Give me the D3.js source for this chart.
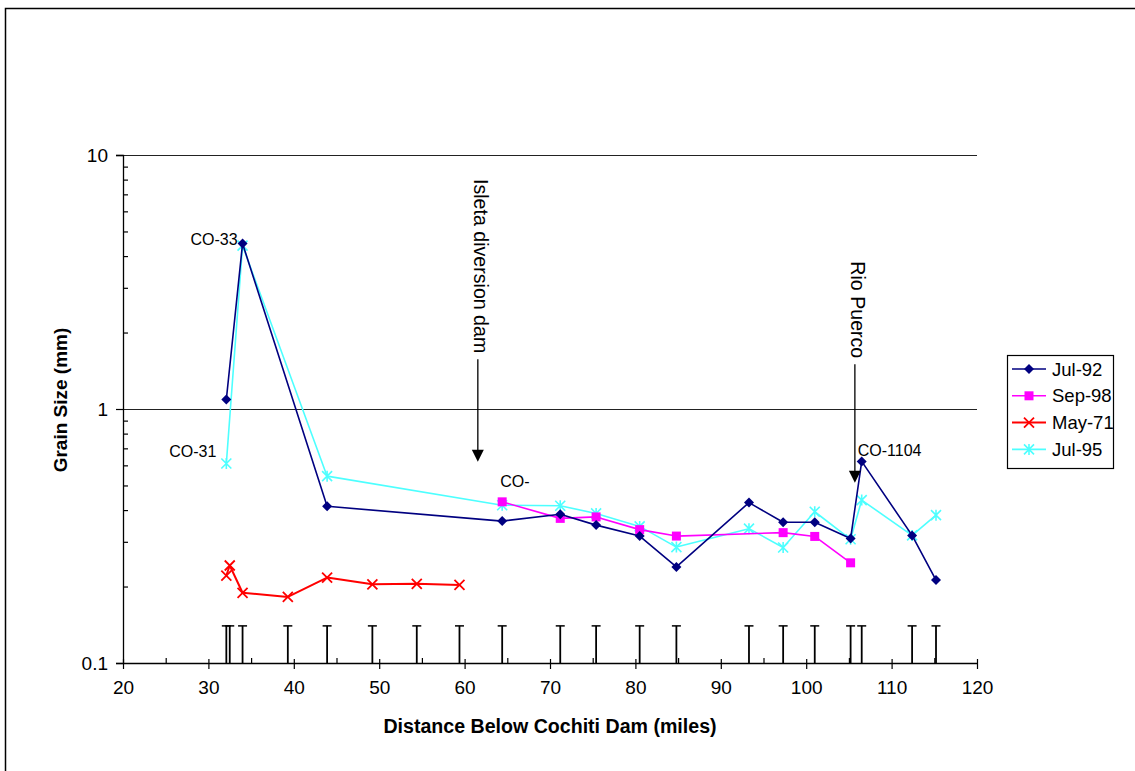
<!DOCTYPE html>
<html>
<head>
<meta charset="utf-8">
<script src="https://cdn.jsdelivr.net/npm/d3@7"></script>
<style>
  html, body { margin: 0; padding: 0; background: #fff; }
  svg { display: block; font-family: Arial, "Liberation Sans", sans-serif; }
</style>
</head>
<body>
<svg id="chart" width="1135" height="771"></svg>
<script>
// Sampling locations (river miles below Cochiti Dam)
const stationMiles = [32.1, 32.5, 34.0, 39.3, 43.9, 49.2, 54.4, 59.4, 64.4, 71.2,
                      75.4, 80.5, 84.8, 93.3, 97.3, 101.0, 105.2, 106.5, 112.4, 115.2];
const stationMarkTop = 0.14;

// Median grain size (mm) per survey
const jul92Miles = [32.1, 34.0, 43.9, 64.4, 71.2, 75.4, 80.5, 84.8, 93.3, 97.3, 101.0, 105.2, 106.5, 112.4, 115.2];
const jul92Size  = [1.09, 4.48, 0.414, 0.362, 0.385, 0.349, 0.316, 0.239, 0.428, 0.358, 0.358, 0.309, 0.622, 0.318, 0.212];

const sep98Miles = [64.4, 71.2, 75.4, 80.5, 84.8, 97.3, 101.0, 105.2];
const sep98Size  = [0.431, 0.371, 0.376, 0.335, 0.316, 0.326, 0.315, 0.248];

const may71Miles = [32.1, 32.5, 34.0, 39.3, 43.9, 49.2, 54.4, 59.4];
const may71Size  = [0.221, 0.242, 0.189, 0.182, 0.217, 0.204, 0.205, 0.203];

const jul95Miles = [32.1, 34.0, 43.9, 64.4, 71.2, 75.4, 80.5, 84.8, 93.3, 97.3, 101.0, 105.2, 106.5, 112.4, 115.2];
const jul95Size  = [0.61, 4.40, 0.544, 0.418, 0.416, 0.388, 0.345, 0.286, 0.338, 0.285, 0.394, 0.307, 0.438, 0.318, 0.382];

const seriesNames = ["Jul-92", "Sep-98", "May-71", "Jul-95"];

// Axis ticks
const xMajorTicks = [20, 30, 40, 50, 60, 70, 80, 90, 100, 110, 120];
const xMinorTicks = [25, 35, 45, 55, 65, 75, 85, 95, 105, 115];
const yMajorTicks = [0.1, 1, 10];
const yTickLabels = ["0.1", "1", "10"];
const yMinorTicks = [0.2, 0.3, 0.4, 0.5, 0.6, 0.7, 0.8, 0.9, 2, 3, 4, 5, 6, 7, 8, 9];

// Station labels: [text, mile, size]
const stationLabels = [
  ["CO-33", 34.0, 4.48],
  ["CO-31", 32.1, 0.61],
  ["CO-", 64.4, 0.431],
  ["CO-1104", 106.5, 0.622]
];
// Landmark arrows: [text, mile, arrow top size, arrow tip size]
const landmarks = [
  ["Isleta diversion dam", 61.55, 1.57, 0.62],
  ["Rio Puerco", 105.7, 1.50, 0.512]
];

const svg = d3.select("#chart");

// outer frame
svg.append("rect").attr("x", 5.5).attr("y", 8.5).attr("width", 1200).attr("height", 900)
  .attr("fill", "none").attr("stroke", "#000").attr("stroke-width", 1.5);

const x = d3.scaleLinear().domain([20, 120]).range([123, 977]);
const y = d3.scaleLog().domain([0.1, 10]).range([663, 155]);

// horizontal gridlines at 1 and 10
svg.append("g").selectAll("line").data([1, 10]).join("line")
  .attr("x1", x(20)).attr("x2", x(120))
  .attr("y1", d => y(d) + 0.5).attr("y2", d => y(d) + 0.5)
  .attr("stroke", "#222").attr("stroke-width", 1);

// y axis
const yAxis = svg.append("g").attr("transform", `translate(${x(20)},0)`)
  .call(d3.axisLeft(y).tickValues(yMajorTicks).tickSize(7)
    .tickFormat((d, i) => yTickLabels[i]));
yAxis.append("g").call(d3.axisRight(y).tickValues(yMinorTicks).tickSize(5).tickFormat(""))
  .call(g => g.select(".domain").remove());

// x axis
const xAxis = svg.append("g").attr("transform", `translate(0,${y(0.1)})`)
  .call(d3.axisBottom(x).tickValues(xMajorTicks).tickSize(6).tickSizeOuter(0).tickFormat(d3.format("d")));
xAxis.append("g").call(d3.axisBottom(x).tickValues(xMajorTicks).tickSize(-4).tickFormat(""))
  .call(g => g.select(".domain").remove());
xAxis.append("g").call(d3.axisBottom(x).tickValues(xMinorTicks).tickSize(-5).tickFormat(""))
  .call(g => g.select(".domain").remove());

svg.selectAll(".domain").attr("stroke", "#000").attr("stroke-width", 1.3);
svg.selectAll(".tick line").attr("stroke", "#000").attr("stroke-width", 1.2);
svg.selectAll(".tick text").attr("font-size", 19).attr("fill", "#000")
  .attr("font-family", "Arial, 'Liberation Sans', sans-serif");
yAxis.selectAll(".tick text").attr("x", -15);
xAxis.selectAll(".tick text").attr("y", 18);

// axis titles
svg.append("text").attr("x", x(70)).attr("y", 733).attr("text-anchor", "middle")
  .attr("font-size", 19.6).attr("font-weight", "bold").text("Distance Below Cochiti Dam (miles)");
svg.append("text").attr("transform", `translate(67,${y(1) - 9}) rotate(-90)`)
  .attr("text-anchor", "middle").attr("font-size", 19).attr("font-weight", "bold")
  .text("Grain Size (mm)");

// sampling station markers along the bottom
const stations = svg.append("g").attr("stroke", "#000").attr("stroke-width", 1.8);
stations.selectAll("line.v").data(stationMiles).join("line").attr("class", "v")
  .attr("x1", d => x(d)).attr("x2", d => x(d))
  .attr("y1", y(stationMarkTop)).attr("y2", y(0.1));
stations.selectAll("line.c").data(stationMiles).join("line").attr("class", "c")
  .attr("stroke-width", 1.5)
  .attr("x1", d => x(d) - 4.5).attr("x2", d => x(d) + 4.5)
  .attr("y1", y(stationMarkTop)).attr("y2", y(stationMarkTop));

// series definitions
const series = [
  { name: seriesNames[0], miles: jul92Miles, size: jul92Size, color: "#000080", width: 1.6, symbol: "diamond" },
  { name: seriesNames[1], miles: sep98Miles, size: sep98Size, color: "#FF00FF", width: 1.6, symbol: "square" },
  { name: seriesNames[2], miles: may71Miles, size: may71Size, color: "#FF0000", width: 2.0, symbol: "x" },
  { name: seriesNames[3], miles: jul95Miles, size: jul95Size, color: "#4DFFFF", width: 1.6, symbol: "star" }
];

function drawMarker(g, symbol, color, cx, cy) {
  if (symbol === "diamond") {
    g.append("path").attr("d", `M${cx},${cy - 5}L${cx + 5},${cy}L${cx},${cy + 5}L${cx - 5},${cy}Z`)
      .attr("fill", color);
  } else if (symbol === "square") {
    g.append("rect").attr("x", cx - 4.5).attr("y", cy - 4.5).attr("width", 9).attr("height", 9)
      .attr("fill", color);
  } else if (symbol === "x") {
    g.append("path").attr("d", `M${cx - 5},${cy - 5}L${cx + 5},${cy + 5}M${cx - 5},${cy + 5}L${cx + 5},${cy - 5}`)
      .attr("stroke", color).attr("stroke-width", 1.8).attr("fill", "none");
  } else if (symbol === "star") {
    g.append("path").attr("d", `M${cx - 5},${cy - 5}L${cx + 5},${cy + 5}M${cx - 5},${cy + 5}L${cx + 5},${cy - 5}M${cx},${cy - 5.5}L${cx},${cy + 5.5}`)
      .attr("stroke", color).attr("stroke-width", 1.6).attr("fill", "none");
  }
}

const line = d3.line().x(d => x(d[0])).y(d => y(d[1]));
// Jul-95 first so the Jul-92 line sits on top of it
const drawOrder = [series[3], series[1], series[2], series[0]];
drawOrder.forEach(s => {
  const pts = s.miles.map((m, i) => [m, s.size[i]]);
  const g = svg.append("g");
  g.append("path").datum(pts).attr("d", line)
    .attr("fill", "none").attr("stroke", s.color).attr("stroke-width", s.width)
    .attr("stroke-linejoin", "round");
  pts.forEach(p => drawMarker(g, s.symbol, s.color, x(p[0]), y(p[1])));
});

// station labels
const labelOffsets = { "CO-33": [-5, 1, "end"], "CO-31": [-10, -7, "end"], "CO-": [-2, -15, "start"], "CO-1104": [-4, -5, "start"] };
stationLabels.forEach(([t, m, v]) => {
  const o = labelOffsets[t];
  svg.append("text").attr("x", x(m) + o[0]).attr("y", y(v) + o[1])
    .attr("text-anchor", o[2]).attr("font-size", 16).attr("fill", "#000").text(t);
});

// landmark arrows with rotated labels
landmarks.forEach(([t, m, top, tip]) => {
  const lx = x(m), y0 = y(top), y1 = y(tip);
  svg.append("line").attr("x1", lx).attr("x2", lx).attr("y1", y0).attr("y2", y1 - 10)
    .attr("stroke", "#000").attr("stroke-width", 1.3);
  svg.append("path").attr("d", `M${lx - 6},${y1 - 12}L${lx + 6},${y1 - 12}L${lx},${y1}Z`).attr("fill", "#000");
  svg.append("text").attr("transform", `translate(${lx - 4},${y0 - 6}) rotate(90)`)
    .attr("text-anchor", "end").attr("font-size", 19.6).attr("fill", "#000").text(t);
});

// legend
const legend = svg.append("g");
legend.append("rect").attr("x", 1007.5).attr("y", 355.5).attr("width", 106).attr("height", 113)
  .attr("fill", "#fff").attr("stroke", "#000").attr("stroke-width", 1.2);
series.forEach((s, i) => {
  const ly = 369 + i * 26.8;
  legend.append("line").attr("x1", 1012).attr("x2", 1046).attr("y1", ly).attr("y2", ly)
    .attr("stroke", s.color).attr("stroke-width", s.width);
  drawMarker(legend, s.symbol, s.color, 1029, ly);
  legend.append("text").attr("x", 1052).attr("y", ly + 6.5).attr("font-size", 18.5).attr("fill", "#000").text(s.name);
});
</script>
</body>
</html>
